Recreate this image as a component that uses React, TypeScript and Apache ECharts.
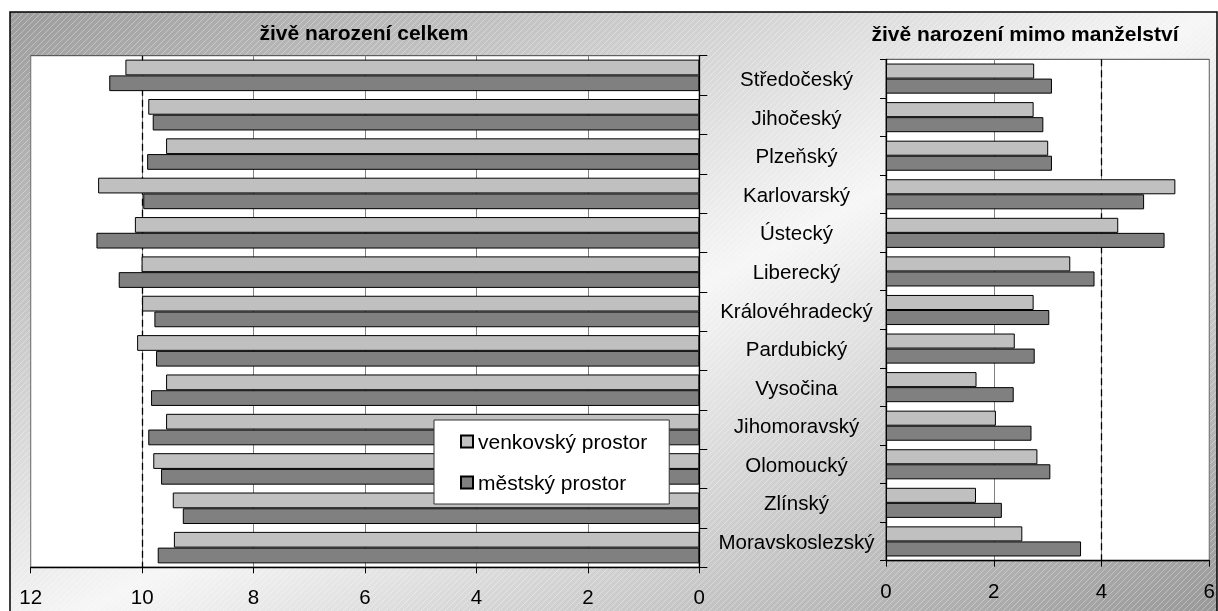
import React, { useEffect, useRef } from "react";
import * as echarts from "echarts";

const categories = [
  "Středočeský",
  "Jihočeský",
  "Plzeňský",
  "Karlovarský",
  "Ústecký",
  "Liberecký",
  "Královéhradecký",
  "Pardubický",
  "Vysočina",
  "Jihomoravský",
  "Olomoucký",
  "Zlínský",
  "Moravskoslezský",
];
const seriesNames = ["venkovský prostor", "městský prostor"];
const totalRural = [10.3, 9.89, 9.57, 10.79, 10.13, 10.01, 10.0, 10.09, 9.57, 9.57, 9.8, 9.45, 9.43];
const totalUrban = [10.59, 9.81, 9.91, 9.98, 10.82, 10.42, 9.78, 9.75, 9.84, 9.89, 9.66, 9.27, 9.72];
const outsideRural = [2.75, 2.74, 3.01, 5.37, 4.31, 3.42, 2.74, 2.39, 1.68, 2.04, 2.81, 1.67, 2.53];
const outsideUrban = [3.08, 2.92, 3.08, 4.79, 5.17, 3.87, 3.03, 2.76, 2.37, 2.7, 3.05, 2.15, 3.62];
const leftTitle = "živě narození celkem";
const rightTitle = "živě narození mimo manželství";
const leftRef = 10;
const rightRef = 4;

const FONT = "'Liberation Sans', Arial, sans-serif";
const LIGHT = "#c0c0c0";
const DARK = "#808080";

function makeHatch(): string | null {
  try {
    const c = document.createElement("canvas");
    c.width = 6;
    c.height = 6;
    const ctx = c.getContext("2d");
    if (!ctx) return null;
    ctx.strokeStyle = "rgba(255,255,255,0.55)";
    ctx.lineWidth = 1;
    ctx.beginPath();
    ctx.moveTo(-1, 7);
    ctx.lineTo(7, -1);
    ctx.moveTo(-4, 4);
    ctx.lineTo(4, -4);
    ctx.moveTo(2, 10);
    ctx.lineTo(10, 2);
    ctx.stroke();
    return c.toDataURL();
  } catch (e) {
    return null;
  }
}

export default function App() {
  const ref = useRef<HTMLDivElement>(null);
  useEffect(() => {
    if (!ref.current) return;
    const chart = echarts.init(ref.current, undefined, { renderer: "svg" });
    const hatch = makeHatch();
    const barStyle = (c: string) => ({ color: c, borderColor: "#000", borderWidth: 1 });
    const refLine = (v: number) => ({
      silent: true,
      symbol: "none",
      z: 1,
      label: { show: false },
      lineStyle: { color: "#000", type: [7, 4], width: 1.3 },
      data: [{ xAxis: v }],
    });
    const valueAxisCommon = {
      type: "value" as const,
      min: 0,
      interval: 2,
      axisLine: { show: true, lineStyle: { color: "#000", width: 1.3 } },
      axisTick: { show: true, inside: false, length: 6, lineStyle: { color: "#000" } },
      axisLabel: { fontSize: 20.5, color: "#000", margin: 19, fontFamily: FONT },
      splitLine: { show: true, lineStyle: { color: "#808080", width: 1 } },
    };
    const graphics: any[] = [
      {
        type: "rect",
        z: -100,
        shape: { x: 10, y: 12, width: 1207, height: 640 },
        style: {
          fill: new echarts.graphic.LinearGradient(0, 0, 1, 1, [
            { offset: 0, color: "#9c9c9c" },
            { offset: 0.5, color: "#f6f6f6" },
            { offset: 1, color: "#929292" },
          ]),
          stroke: "#000",
          lineWidth: 1.5,
        },
      },
    ];
    if (hatch) {
      graphics.push({
        type: "rect",
        z: -99,
        silent: true,
        shape: { x: 11, y: 13, width: 1205, height: 638 },
        style: { fill: { image: hatch, repeat: "repeat" }, opacity: 0.6 },
      });
    }
    graphics.push(
      {
        type: "text",
        z: 100,
        x: 364,
        y: 32,
        style: {
          text: leftTitle,
          fontFamily: FONT,
          fontWeight: "bold",
          fontSize: 21,
          fill: "#000",
          align: "center",
          verticalAlign: "middle",
        },
      },
      {
        type: "text",
        z: 100,
        x: 1025,
        y: 33,
        style: {
          text: rightTitle,
          fontFamily: FONT,
          fontWeight: "bold",
          fontSize: 21,
          fill: "#000",
          align: "center",
          verticalAlign: "middle",
        },
      }
    );
    chart.setOption({
      animation: false,
      textStyle: { fontFamily: FONT },
      graphic: graphics,
      legend: {
        data: seriesNames,
        orient: "vertical",
        left: 434,
        top: 420,
        padding: [11, 22, 11, 26],
        itemGap: 20,
        itemWidth: 12,
        itemHeight: 12,
        icon: "rect",
        backgroundColor: "#fff",
        borderColor: "#333",
        borderWidth: 1,
        textStyle: { fontSize: 21, color: "#000", fontFamily: FONT },
      },
      grid: [
        {
          left: 30.7,
          top: 55.7,
          width: 668.6,
          height: 511.6,
          show: true,
          backgroundColor: "#fff",
          borderColor: "#444",
          borderWidth: 1,
        },
        {
          left: 886,
          top: 59.3,
          width: 328.5,
          height: 501.4,
          show: true,
          backgroundColor: "#fff",
          borderColor: "#444",
          borderWidth: 1,
        },
      ],
      xAxis: [
        { ...valueAxisCommon, gridIndex: 0, max: 12, inverse: true },
        { ...valueAxisCommon, gridIndex: 1, max: 6 },
      ],
      yAxis: [
        {
          type: "category",
          gridIndex: 0,
          data: categories,
          inverse: true,
          position: "right",
          axisLine: { show: true, lineStyle: { color: "#000", width: 1.3 } },
          axisTick: { show: true, inside: false, length: 8, lineStyle: { color: "#000" } },
          axisLabel: { show: false },
          splitLine: { show: false },
        },
        {
          type: "category",
          gridIndex: 1,
          data: categories,
          inverse: true,
          position: "left",
          axisLine: { show: true, lineStyle: { color: "#000", width: 1.3 } },
          axisTick: { show: true, inside: false, length: 6, lineStyle: { color: "#000" } },
          axisLabel: {
            show: true,
            fontSize: 20.5,
            color: "#000",
            align: "center",
            margin: 89.5,
            fontFamily: FONT,
          },
          splitLine: { show: false },
        },
      ],
      series: [
        {
          name: seriesNames[0],
          type: "bar",
          xAxisIndex: 0,
          yAxisIndex: 0,
          data: totalRural,
          barGap: "0%",
          barCategoryGap: "20%",
          itemStyle: barStyle(LIGHT),
          markLine: refLine(leftRef),
        },
        {
          name: seriesNames[1],
          type: "bar",
          xAxisIndex: 0,
          yAxisIndex: 0,
          data: totalUrban,
          barGap: "0%",
          barCategoryGap: "20%",
          itemStyle: barStyle(DARK),
        },
        {
          name: seriesNames[0],
          type: "bar",
          xAxisIndex: 1,
          yAxisIndex: 1,
          data: outsideRural,
          barGap: "0%",
          barCategoryGap: "22%",
          itemStyle: barStyle(LIGHT),
          markLine: refLine(rightRef),
        },
        {
          name: seriesNames[1],
          type: "bar",
          xAxisIndex: 1,
          yAxisIndex: 1,
          data: outsideUrban,
          barGap: "0%",
          barCategoryGap: "22%",
          itemStyle: barStyle(DARK),
        },
      ],
    });
    return () => chart.dispose();
  }, []);
  return (
    <div
      ref={ref}
      style={{ position: "fixed", left: 0, top: 0, width: 1218, height: 611 }}
    />
  );
}
